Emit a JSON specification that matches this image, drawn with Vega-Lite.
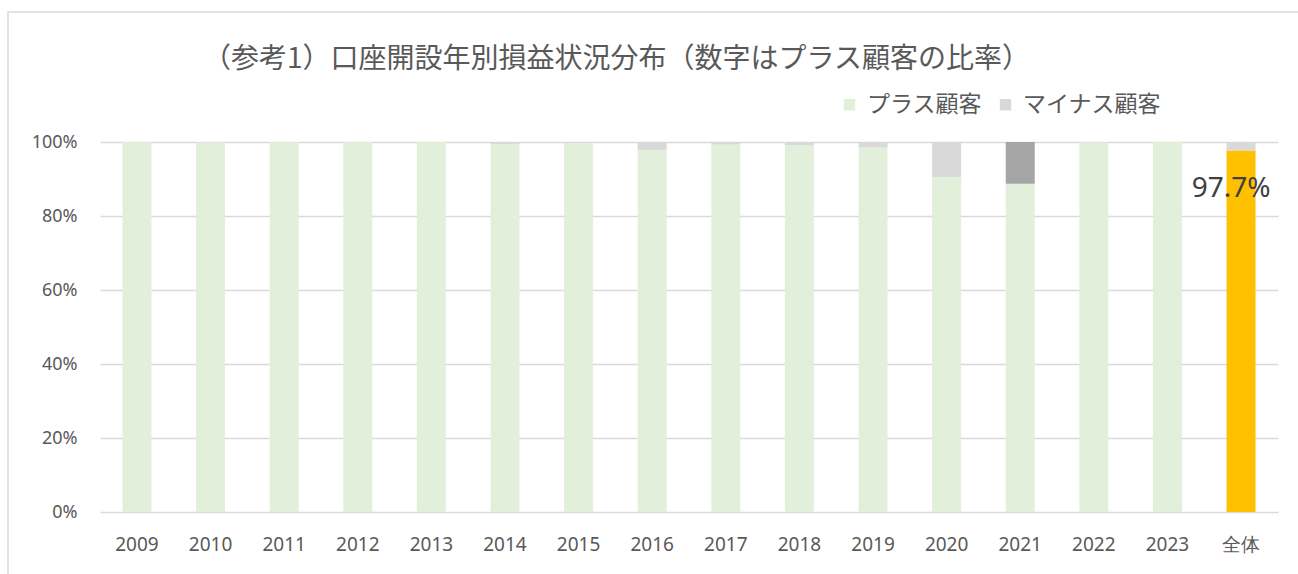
{
  "$schema": "https://vega.github.io/schema/vega-lite/v6.json",
  "autosize": "none",
  "width": 1291,
  "height": 563,
  "padding": {"left": 8, "top": 12, "right": 0, "bottom": 0},
  "background": "white",
  "config": {
    "view": {"stroke": "#D9D9D9", "strokeWidth": 1.5},
    "font": "Noto Sans CJK JP"
  },
  "title": {
    "text": "（参考1）口座開設年別損益状況分布（数字はプラス顧客の比率）",
    "fontSize": 28,
    "fontWeight": "normal",
    "color": "#595959",
    "font": "Noto Sans CJK JP",
    "anchor": "middle",
    "frame": "group",
    "baseline": "middle",
    "offset": -76,
    "dx": -37
  },
  "data": {
    "values": [
      {"year": "2009", "series": "プラス顧客", "value": 1.0},
      {"year": "2009", "series": "マイナス顧客", "value": 0.0},
      {"year": "2010", "series": "プラス顧客", "value": 0.999},
      {"year": "2010", "series": "マイナス顧客", "value": 0.001},
      {"year": "2011", "series": "プラス顧客", "value": 1.0},
      {"year": "2011", "series": "マイナス顧客", "value": 0.0},
      {"year": "2012", "series": "プラス顧客", "value": 1.0},
      {"year": "2012", "series": "マイナス顧客", "value": 0.0},
      {"year": "2013", "series": "プラス顧客", "value": 1.0},
      {"year": "2013", "series": "マイナス顧客", "value": 0.0},
      {"year": "2014", "series": "プラス顧客", "value": 0.994},
      {"year": "2014", "series": "マイナス顧客", "value": 0.006},
      {"year": "2015", "series": "プラス顧客", "value": 0.998},
      {"year": "2015", "series": "マイナス顧客", "value": 0.002},
      {"year": "2016", "series": "プラス顧客", "value": 0.978},
      {"year": "2016", "series": "マイナス顧客", "value": 0.022},
      {"year": "2017", "series": "プラス顧客", "value": 0.993},
      {"year": "2017", "series": "マイナス顧客", "value": 0.007},
      {"year": "2018", "series": "プラス顧客", "value": 0.991},
      {"year": "2018", "series": "マイナス顧客", "value": 0.009},
      {"year": "2019", "series": "プラス顧客", "value": 0.985},
      {"year": "2019", "series": "マイナス顧客", "value": 0.015},
      {"year": "2020", "series": "プラス顧客", "value": 0.905},
      {"year": "2020", "series": "マイナス顧客", "value": 0.095},
      {"year": "2021", "series": "プラス顧客", "value": 0.887},
      {"year": "2021", "series": "マイナス顧客", "value": 0.113},
      {"year": "2022", "series": "プラス顧客", "value": 0.999},
      {"year": "2022", "series": "マイナス顧客", "value": 0.001},
      {"year": "2023", "series": "プラス顧客", "value": 1.0},
      {"year": "2023", "series": "マイナス顧客", "value": 0.0},
      {"year": "全体", "series": "プラス顧客", "value": 0.977},
      {"year": "全体", "series": "マイナス顧客", "value": 0.023}
    ]
  },
  "encoding": {
    "x": {
      "field": "year",
      "type": "nominal",
      "sort": null,
      "scale": {"range": [92, 1270], "paddingInner": 0.606, "paddingOuter": 0.305, "align": 0.5},
      "axis": {
        "title": null,
        "labelAngle": 0,
        "domain": false,
        "ticks": false,
        "tickSize": 0,
        "grid": false,
        "labelPadding": -31,
        "labelBaseline": "middle",
        "labelFontSize": 19,
        "labelColor": "#595959",
        "labelFont": "Noto Sans"
      }
    }
  },
  "layer": [
    {
      "mark": {"type": "bar"},
      "encoding": {
        "y": {
          "field": "value",
          "type": "quantitative",
          "stack": "zero",
          "scale": {"domain": [0, 1], "range": [500, 130], "nice": false},
          "axis": {
            "title": null,
            "values": [0, 0.2, 0.4, 0.6, 0.8, 1],
            "format": ".0%",
            "domain": false,
            "ticks": false,
            "tickSize": 0,
            "labelPadding": -69,
            "labelFontSize": 18,
            "labelColor": "#595959",
            "labelFont": "Noto Sans",
            "gridColor": "#D9D9D9",
            "gridWidth": 1.5
          }
        },
        "color": {
          "field": "series",
          "type": "nominal",
          "scale": {"domain": ["プラス顧客", "マイナス顧客"], "range": ["#E2EFDA", "#D9D9D9"]},
          "condition": [
            {"test": "datum.year === '全体' && datum.series === 'プラス顧客'", "value": "#FFC000"},
            {"test": "datum.year === '2021' && datum.series === 'マイナス顧客'", "value": "#A5A5A5"}
          ],
          "legend": {
            "title": null,
            "orient": "none",
            "direction": "horizontal",
            "legendX": 830,
            "legendY": 81,
            "symbolType": "square",
            "symbolSize": 130,
            "symbolStrokeWidth": 0,
            "labelFontSize": 23,
            "labelColor": "#595959",
            "labelFont": "Noto Sans CJK JP",
            "labelOffset": 6,
            "columnPadding": 12
          }
        },
        "order": {"field": "series", "sort": "ascending"}
      }
    },
    {
      "transform": [{"filter": "datum.year === '全体' && datum.series === 'プラス顧客'"}],
      "mark": {"type": "text", "fontSize": 28, "color": "#404040", "font": "Noto Sans", "baseline": "middle", "align": "center", "dx": -10, "dy": 38},
      "encoding": {
        "y": {"field": "value", "type": "quantitative"},
        "text": {"field": "value", "type": "quantitative", "format": ".1%"}
      }
    }
  ]
}
